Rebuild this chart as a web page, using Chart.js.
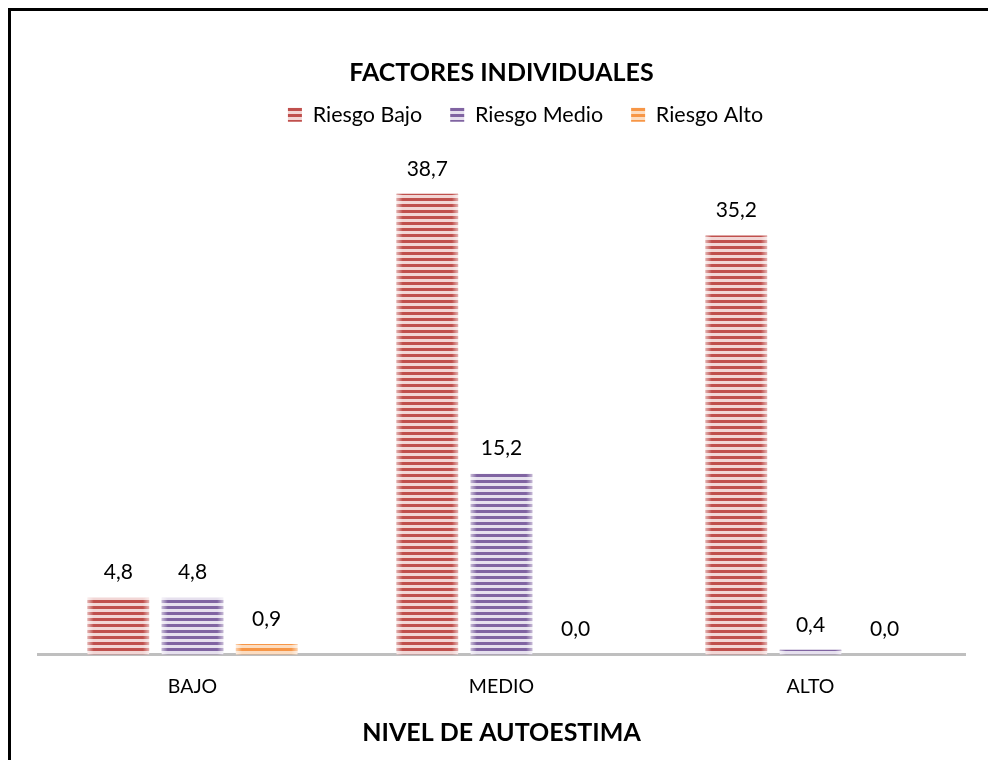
<!DOCTYPE html>
<html>
<head>
<meta charset="utf-8">
<script src="https://cdn.jsdelivr.net/npm/chart.js@4.4.1/dist/chart.umd.min.js"></script>
<style>
  html, body { margin: 0; padding: 0; background: #fff; overflow: hidden; }
  #wrap { position: relative; width: 988px; height: 760px; }
  #frame { position: absolute; left: 8px; top: 8px; width: 1000px; height: 800px;
           border-left: 3px solid #000; border-top: 3px solid #000; }
  canvas { position: absolute; left: 0; top: 0; }
</style>
</head>
<body>
<div id="wrap">
  <div id="frame"></div>
  <canvas id="chart" width="988" height="760"></canvas>
</div>
<script>
const categories = ['BAJO', 'MEDIO', 'ALTO'];
const riesgoBajo = [4.8, 38.7, 35.2];
const riesgoMedio = [4.8, 15.2, 0.4];
const riesgoAlto = [0.9, 0.0, 0.0];

const FONT = 'Lato, "Noto Sans", sans-serif';

// striped fill: dark line / light line, repeated vertically
function stripes(dark, light) {
    const c = document.createElement('canvas');
    c.width = 8;
    c.height = 6;
    const g = c.getContext('2d');
    g.fillStyle = light;
    g.fillRect(0, 0, 8, 6);
    g.fillStyle = dark;
    g.fillRect(0, 0, 8, 3);
    return g.createPattern(c, 'repeat');
}

const redFill = stripes('#c0504d', '#f2d6d5');
const purpleFill = stripes('#8064a2', '#e6e0ee');
const orangeFill = stripes('#f79646', '#fcdcc0');

// legend row sits a little right of the canvas centre
const legendShift = {
    id: 'legendShift',
    afterUpdate(chart) {
        chart.legend.left += 24;
        chart.legend.right += 24;
    }
};

// soft light edges on the sides of each bar
const barSheen = {
    id: 'barSheen',
    afterDatasetsDraw(chart) {
        const ctx = chart.ctx;
        ctx.save();
        chart.data.datasets.forEach((ds, i) => {
            chart.getDatasetMeta(i).data.forEach(bar => {
                const h = bar.base - bar.y;
                if (h < 1) return;
                const left = bar.x - bar.width / 2;
                const right = bar.x + bar.width / 2;
                const g = ctx.createLinearGradient(left, 0, right, 0);
                g.addColorStop(0, 'rgba(255,255,255,0.55)');
                g.addColorStop(0.1, 'rgba(255,255,255,0)');
                g.addColorStop(0.9, 'rgba(255,255,255,0)');
                g.addColorStop(1, 'rgba(255,255,255,0.55)');
                ctx.fillStyle = g;
                ctx.fillRect(left, bar.y, bar.width, h);
            });
        });
        ctx.restore();
    }
};

// value labels above every bar, decimal comma
const valueLabels = {
    id: 'valueLabels',
    afterDatasetsDraw(chart) {
        const ctx = chart.ctx;
        ctx.save();
        ctx.font = '21px ' + FONT;
        ctx.fillStyle = '#000';
        ctx.textAlign = 'center';
        ctx.textBaseline = 'middle';
        chart.data.datasets.forEach((ds, i) => {
            chart.getDatasetMeta(i).data.forEach((bar, j) => {
                const txt = ds.data[j].toFixed(1).replace('.', ',');
                ctx.fillText(txt, bar.x, bar.y - 25);
            });
        });
        ctx.restore();
    }
};

new Chart(document.getElementById('chart'), {
    type: 'bar',
    data: {
        labels: categories,
        datasets: [
            { label: 'Riesgo Bajo', data: riesgoBajo, backgroundColor: redFill },
            { label: 'Riesgo Medio', data: riesgoMedio, backgroundColor: purpleFill },
            { label: 'Riesgo Alto', data: riesgoAlto, backgroundColor: orangeFill }
        ]
    },
    options: {
        responsive: false,
        animation: false,
        layout: { padding: { left: 38, right: 23, top: 58, bottom: 12 } },
        datasets: {
            bar: { categoryPercentage: 0.72, barPercentage: 0.83 }
        },
        plugins: {
            tooltip: { enabled: false },
            title: {
                display: true,
                text: 'FACTORES INDIVIDUALES',
                color: '#000',
                font: { family: FONT, size: 25, weight: 'bold' },
                padding: { top: 0, bottom: -12 }
            },
            legend: {
                labels: {
                    color: '#000',
                    boxWidth: 14,
                    boxHeight: 14,
                    padding: 28,
                    font: { family: FONT, size: 21.5 }
                }
            }
        },
        scales: {
            x: {
                grid: { display: true, drawOnChartArea: false, drawTicks: false },
                border: { color: '#bfbfbf', width: 3 },
                ticks: { color: '#000', padding: 20, font: { family: FONT, size: 19.5 } },
                title: {
                    display: true,
                    text: 'NIVEL DE AUTOESTIMA',
                    color: '#000',
                    font: { family: FONT, size: 25, weight: 'bold' },
                    padding: { top: 0, bottom: 0 }
                }
            },
            y: { display: false, min: 0, max: 43.6 }
        }
    },
    plugins: [legendShift, barSheen, valueLabels]
});
</script>
</body>
</html>
